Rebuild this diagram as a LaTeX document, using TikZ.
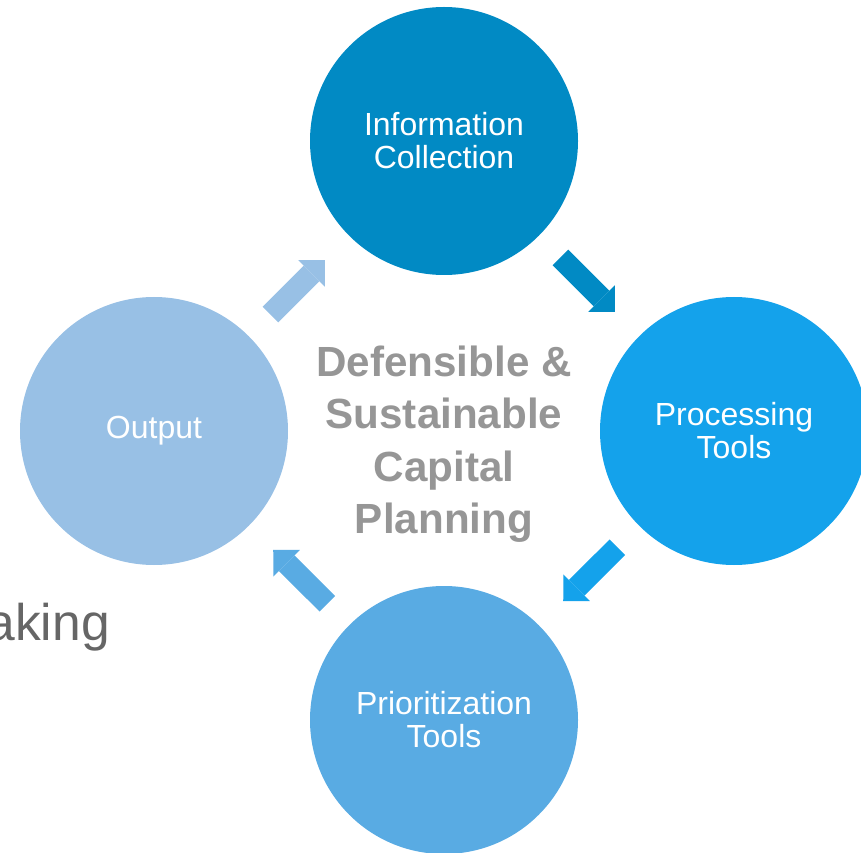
\documentclass[tikz,border=0pt]{standalone}
\usepackage{fontspec}
\setmainfont{Liberation Sans}
\usetikzlibrary{arrows.meta}
\definecolor{infoblue}{RGB}{1,138,196}
\definecolor{procblue}{RGB}{20,162,235}
\definecolor{prioblue}{RGB}{89,171,227}
\definecolor{outblue}{RGB}{152,192,229}
\definecolor{coregray}{RGB}{150,150,150}
\definecolor{makegray}{RGB}{102,102,102}

\begin{document}
\begin{tikzpicture}[
 stage/.style={circle,minimum size=8.04cm,inner sep=0pt,outer sep=0pt,text=white,align=center,font=\fontsize{27.3}{28.2}\selectfont},
 flow/.style={line width=0.66cm,-{Triangle[length=0.57cm,width=1.125cm,line width=0pt]},shorten <=0.92cm,shorten >=1.03cm}]
\useasboundingbox (0,0) rectangle (25.83,25.56);
\node[stage,fill=infoblue] (info) at (13.32,21.33) {Information\\Collection};
\node[stage,fill=procblue] (proc) at (22.02,12.63) {Processing\\Tools};
\node[stage,fill=prioblue] (prio) at (13.32,3.96) {Prioritization\\Tools};
\node[stage,fill=outblue] (out) at (4.62,12.63) {Output};
\node[inner sep=0pt,align=center,text=coregray,font=\bfseries\fontsize{36}{44.8}\selectfont] (core) at (13.32,12.24) {Defensible \&\\Sustainable\\Capital\\Planning};
\node[inner sep=0pt,anchor=base east,text=makegray,font=\fontsize{44}{48}\selectfont] (making) at (3.30,6.36) {aking};
\draw[flow,color=infoblue] (info) -- (proc);
\draw[flow,color=procblue] (proc) -- (prio);
\draw[flow,color=prioblue] (prio) -- (out);
\draw[flow,color=outblue] (out) -- (info);
\end{tikzpicture}
\end{document}
